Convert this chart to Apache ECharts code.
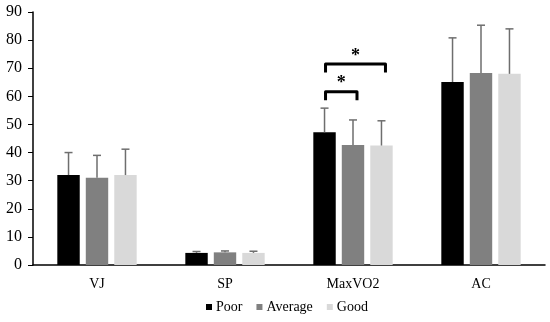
<!DOCTYPE html>
<html><head><meta charset="utf-8">
<script src="https://cdn.jsdelivr.net/npm/echarts@6/dist/echarts.min.js"></script>
<style>html,body{margin:0;padding:0;background:#fff}#c{width:550px;height:322px}</style>
</head><body><div id="c"></div>
<script>
const categories = ['VJ', 'SP', 'MaxVO2', 'AC'];
const seriesNames = ['Poor', 'Average', 'Good'];
const poor = [32, 4.3, 47.2, 65.1];
const average = [31, 4.5, 42.7, 68.3];
const good = [32, 4.3, 42.5, 68];
const poorSd = [8, 0.5, 8.6, 15.7];
const averageSd = [8, 0.5, 8.9, 17];
const goodSd = [9.2, 0.6, 8.8, 16];
const yTicks = [0, 10, 20, 30, 40, 50, 60, 70, 80, 90];
// significance brackets: category, bar indices, label
const sigCategory = 2;
const sigPairs = [[0, 1], [0, 2]];
const sigLevels = [61.6, 71.5];
const sigLabel = '*';

const colors = ['#000000', '#808080', '#d9d9d9'];
const means = [poor, average, good];
const sds = [poorSd, averageSd, goodSd];
const CAT_GAP = 0.38, BAR_GAP = 0.27;
function barOffset(band, idx) {
  const w = band * (1 - CAT_GAP) / (3 + 2 * BAR_GAP);
  return (idx - 1) * w * (1 + BAR_GAP);
}
const font = 'Liberation Serif';

const series = [];
seriesNames.forEach((n, i) => {
  series.push({
    name: n, type: 'bar', data: means[i], itemStyle: { color: colors[i] },
    barCategoryGap: (CAT_GAP * 100) + '%', barGap: (BAR_GAP * 100) + '%', z: 2
  });
});
seriesNames.forEach((n, i) => {
  series.push({
    type: 'custom', z: 3, silent: true,
    data: categories.map((c, k) => [k, means[i][k], sds[i][k]]),
    renderItem: function (params, api) {
      const k = api.value(0), m = api.value(1), s = api.value(2);
      const band = api.size([1, 0])[0];
      const p0 = api.coord([k, m]);
      const p1 = api.coord([k, m + s]);
      const x = p0[0] + barOffset(band, i);
      const style = { stroke: '#6e6e6e', lineWidth: 1.5 };
      return { type: 'group', children: [
        { type: 'line', shape: { x1: x, y1: p0[1], x2: x, y2: p1[1] }, style },
        { type: 'line', shape: { x1: x - 4, y1: p1[1], x2: x + 4, y2: p1[1] }, style }
      ]};
    }
  });
});
series.push({
  type: 'custom', z: 4, silent: true,
  data: sigPairs.map((p, j) => [sigCategory, sigLevels[j], p[0], p[1]]),
  renderItem: function (params, api) {
    const k = api.value(0), lvl = api.value(1), a = api.value(2), b = api.value(3);
    const band = api.size([1, 0])[0];
    const c = api.coord([k, lvl]);
    const drop = api.size([0, 3])[1];
    const xa = c[0] + barOffset(band, a) + 1;
    const xb = c[0] + barOffset(band, b) + 4;
    const y = c[1];
    return { type: 'group', children: [
      { type: 'polyline', shape: { points: [[xa, y + drop], [xa, y], [xb, y], [xb, y + drop]] },
        style: { stroke: '#000', lineWidth: 3, fill: null, lineJoin: 'round' } },
      { type: 'text', x: (xa + xb) / 2, y: y - 8,
        style: { text: sigLabel, fontFamily: font, fontSize: 18, fontWeight: 'bold', fill: '#000', align: 'center', verticalAlign: 'middle' } }
    ]};
  }
});

const chart = echarts.init(document.getElementById('c'));
chart.setOption({
  animation: false,
  textStyle: { fontFamily: font },
  grid: { left: 33, right: 5, top: 12, bottom: 57, containLabel: false },
  legend: {
    data: seriesNames, bottom: 3, left: 201, itemWidth: 6, itemHeight: 6, itemGap: 14,
    icon: 'rect', textStyle: { fontFamily: font, fontSize: 14, color: '#000', padding: [0, 0, 0, -1] },
    selectedMode: false
  },
  xAxis: {
    type: 'category', data: categories,
    axisLine: { lineStyle: { color: '#000', width: 1.5 } },
    axisTick: { inside: true, length: 4, lineStyle: { color: '#000' } },
    axisLabel: { fontFamily: font, fontSize: 14, color: '#000', margin: 12 }
  },
  yAxis: {
    type: 'value', min: yTicks[0], max: yTicks[yTicks.length - 1], interval: 10,
    splitLine: { show: false },
    axisLine: { show: true, lineStyle: { color: '#000', width: 1.5 } },
    axisTick: { show: true, length: 5, lineStyle: { color: '#000' } },
    axisLabel: { fontFamily: font, fontSize: 16, color: '#000', margin: 11 }
  },
  series
});
</script></body></html>
